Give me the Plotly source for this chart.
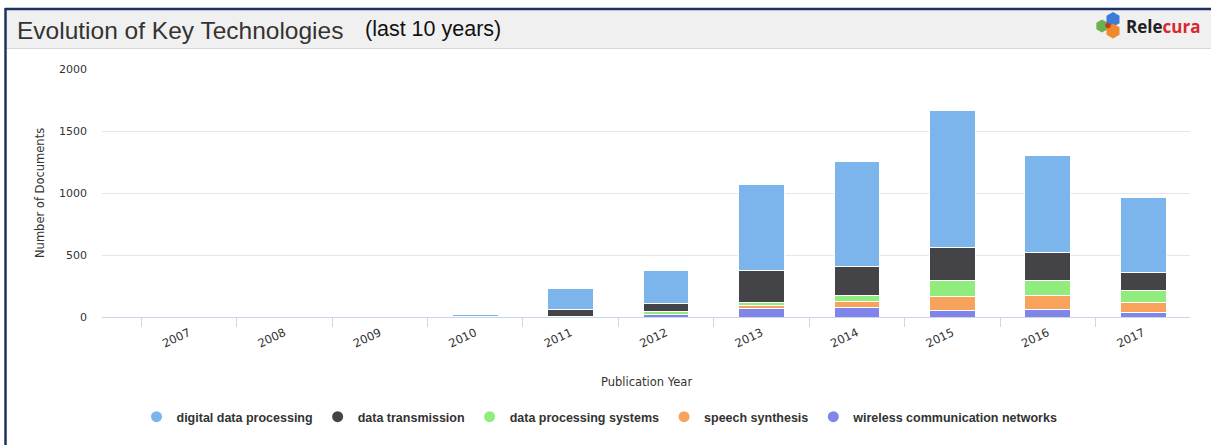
import math
import plotly.graph_objects as go

years = ["2007", "2008", "2009", "2010", "2011", "2012", "2013", "2014", "2015", "2016", "2017"]
wireless_communication_networks = [0, 0, 0, 0, 2, 18, 66, 76, 54, 62, 38]
speech_synthesis = [0, 0, 0, 0, 1, 5, 28, 51, 111, 111, 83]
data_processing_systems = [0, 0, 0, 0, 2, 20, 25, 48, 132, 124, 92]
data_transmission = [0, 0, 0, 2, 52, 62, 257, 232, 266, 223, 148]
digital_data_processing = [3, 4, 3, 16, 173, 272, 694, 845, 1105, 784, 604]

series = [
    ("wireless communication networks", wireless_communication_networks, "#8085e9"),
    ("speech synthesis", speech_synthesis, "#f7a35c"),
    ("data processing systems", data_processing_systems, "#90ed7d"),
    ("data transmission", data_transmission, "#434348"),
    ("digital data processing", digital_data_processing, "#7cb5ec"),
]
legend_order = ["digital data processing", "data transmission", "data processing systems",
                "speech synthesis", "wireless communication networks"]

W, H = 1211, 445
L, R, T, B = 102, 1190, 69, 317


def px(x):
    return (x - L) / (R - L)


def py(y):
    return (B - y) / (B - T)


fig = go.Figure()
for name, vals, col in series:
    fig.add_trace(go.Bar(x=years, y=vals, name=name, marker=dict(color=col, line=dict(color="white", width=1)),
                         width=0.48, showlegend=False))

colors = {n: c for n, _, c in series}
for name in legend_order:
    fig.add_trace(go.Scatter(x=[None], y=[None], mode="markers", name=name,
                             marker=dict(symbol="circle", size=11, color=colors[name])))

shapes = []
# header
shapes.append(dict(type="rect", xref="paper", yref="paper", x0=px(6), x1=px(1211), y0=py(48), y1=py(10),
                   fillcolor="#f0f0f0", line=dict(width=0), layer="below"))
shapes.append(dict(type="line", xref="paper", yref="paper", x0=px(6), x1=px(1211), y0=py(48.5), y1=py(48.5),
                   line=dict(color="#d9d9d9", width=1)))
shapes.append(dict(type="line", xref="paper", yref="paper", x0=px(5), x1=px(1211), y0=py(9), y1=py(9),
                   line=dict(color="#1e3262", width=2.5)))
shapes.append(dict(type="line", xref="paper", yref="paper", x0=px(5.5), x1=px(5.5), y0=py(8), y1=py(445),
                   line=dict(color="#1e3262", width=2.5)))


def hexpath(cx, cy, r):
    pts = []
    for k in range(6):
        a = math.radians(60 * k + 30)
        pts.append((px(cx + r * math.cos(a)), py(cy + r * math.sin(a))))
    return "M " + " L ".join(f"{x:.5f},{y:.5f}" for x, y in pts) + " Z"


for cx, cy, r, c in [(1102, 26, 6.5, "#6ab04c"), (1113, 19.5, 7.5, "#3b7dd8"), (1113, 31, 7.5, "#f0892a"),
                     (1108, 25.5, 3, "#c0392b")]:
    shapes.append(dict(type="path", xref="paper", yref="paper", path=hexpath(cx, cy, r),
                       fillcolor=c, line=dict(width=0)))

annotations = [
    dict(text="Evolution of Key Technologies", x=px(15), y=py(30), xref="paper", yref="paper",
         xanchor="left", yanchor="middle", showarrow=False,
         font=dict(family="Liberation Sans, Arial", size=24.5, color="#333333")),
    dict(text="(last 10 years)", x=px(363), y=py(29), xref="paper", yref="paper",
         xanchor="left", yanchor="middle", showarrow=False,
         font=dict(family="Liberation Sans, Arial", size=21.5, color="#111111")),
    dict(text="<b>Rele<span style='color:#d6282e'>cura</span></b>", x=px(1124), y=py(27), xref="paper",
         yref="paper", xanchor="left", yanchor="middle", showarrow=False,
         font=dict(family="Open Sans, Liberation Sans", size=17, color="#222222")),
    dict(text="Number of Documents", x=px(40), y=py(193), xref="paper", yref="paper", textangle=-90,
         xanchor="center", yanchor="middle", showarrow=False,
         font=dict(family="DejaVu Sans, Verdana", size=11.5, color="#333333")),
    dict(text="Publication Year", x=px(646), y=py(382), xref="paper", yref="paper",
         xanchor="center", yanchor="middle", showarrow=False,
         font=dict(family="DejaVu Sans, Verdana", size=11.5, color="#333333")),
]

fig.update_layout(
    width=W, height=H,
    margin=dict(l=L, r=W - R, t=T, b=H - B, autoexpand=False),
    barmode="stack",
    plot_bgcolor="white", paper_bgcolor="white",
    shapes=shapes, annotations=annotations,
    showlegend=True,
    legend=dict(orientation="h", x=px(600), xanchor="center", y=py(417), yanchor="middle",
                font=dict(family="Liberation Sans, Arial", size=12.5, color="#333333", weight="bold"),
                itemwidth=30, traceorder="normal"),
    xaxis=dict(type="category", range=[-0.91, 10.49], tickangle=-25, tickson="boundaries",
               ticks="outside", ticklen=9, tickcolor="#ccd6eb", showline=True, linecolor="#ccd6eb",
               linewidth=1, showgrid=False, fixedrange=True, ticklabelstandoff=4,
               tickfont=dict(family="DejaVu Sans, Verdana", size=11.5, color="#333333")),
    yaxis=dict(range=[0, 2000], tickvals=[0, 500, 1000, 1500, 2000], showgrid=True, gridcolor="#e6e6e6",
               gridwidth=1, zeroline=False, showline=False, ticklabelstandoff=14, fixedrange=True,
               tickfont=dict(family="DejaVu Sans, Verdana", size=11, color="#333333")),
)

fig.write_html("out.html", config={"displayModeBar": False},
               post_script="document.body.style.margin='0px';document.body.style.overflow='hidden';")
